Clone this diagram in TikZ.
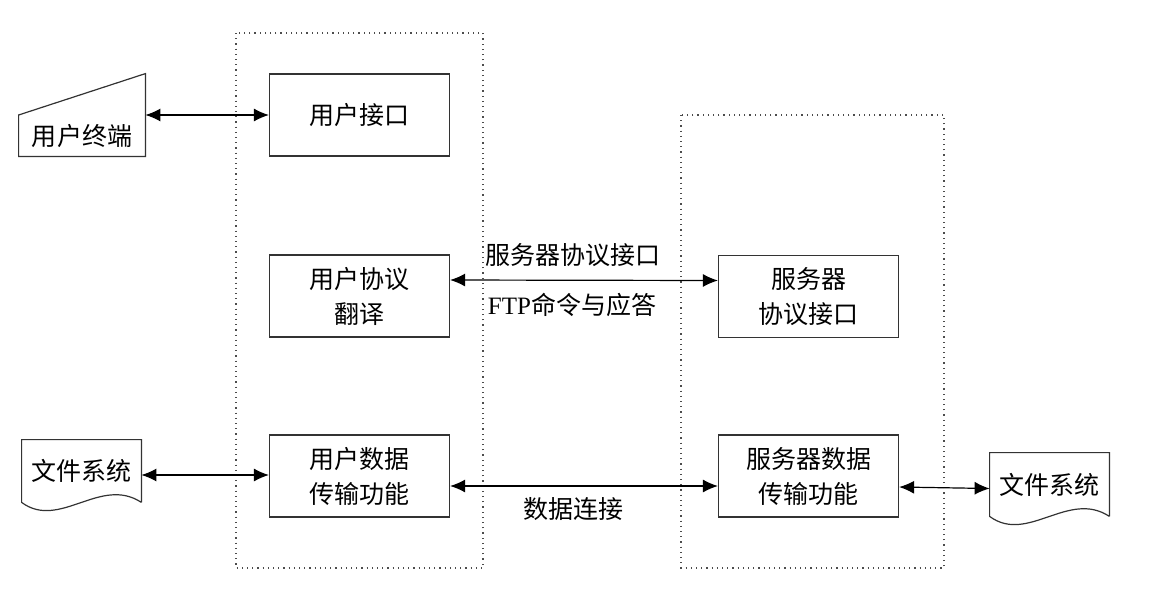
\documentclass[tikz,border=0pt]{standalone}
\usepackage{fontspec}
\setmainfont{Liberation Serif}
\newfontfamily\cjk{Noto Sans CJK SC}
\usepackage{tikz}
\usetikzlibrary{arrows.meta}
\usetikzlibrary{calc}

\begin{document}
\begin{tikzpicture}[
    x=0.5pt, y=-0.5pt,
    % Node styles
    block/.style={draw=black!80, line width=0.6pt, minimum width=90pt, minimum height=41pt,
                  inner sep=0pt, align=center, font=\cjk\fontsize{12.5}{17.5}\selectfont},
    frame/.style={minimum width=63pt, minimum height=41pt, inner sep=0pt,
                  font=\cjk\fontsize{12.5}{17.5}\selectfont},
    outline/.style={draw=black!80, line width=0.6pt},
    lbl/.style={font=\fontsize{12.5}{15}\selectfont, inner sep=0pt},
    % Dotted frames round each side
    container/.style={draw=black!70, dotted, line width=0.6pt},
    % Two-headed links
    link/.style={line width=0.6pt, {Latex[length=7.5pt,width=6.5pt]}-{Latex[length=7.5pt,width=6.5pt]}}
]
    \useasboundingbox (0,0) rectangle (1159,595);

    % =========================================================================
    % 1. DOTTED CONTAINERS
    % =========================================================================
    \draw[container] (236,33) rectangle (483,568);
    \draw[container] (681,115) rectangle (944,568);

    % =========================================================================
    % 2. CLIENT SIDE
    % =========================================================================
    \node[block] (uif)  at (359.5,115) {用户接口};
    \node[block] (upi)  at (359.5,296) {用户协议\\翻译};
    \node[block] (udtp) at (359.5,476) {用户数据\\传输功能};

    % --- User terminal (manual input shape) ---
    \node[frame, minimum width=63pt] (term) at (82,115) {};
    \draw[outline] (term.south west) -- (term.south east) -- (term.north east)
        -- ($(term.north west)!0.5!(term.south west)$) -- cycle;
    \node[lbl, font=\cjk\fontsize{12.5}{15}\selectfont] (termtxt) at (82,136) {用户终端};

    % --- Local file system (document shape) ---
    \node[frame, minimum width=59.5pt, minimum height=31pt] (docL) at (81.5,471) {文件系统};
    \draw[outline] (docL.south east) -- (docL.north east) -- (docL.north west) -- (docL.south west)
        .. controls ($(docL.south west)+(38,28)$) and ($(docL.south east)+(-41,-27)$) .. (docL.south east);

    % =========================================================================
    % 3. SERVER SIDE
    % =========================================================================
    \node[block] (spi)  at (808.5,296.5) {服务器\\协议接口};
    \node[block] (sdtp) at (808.5,476) {服务器数据\\传输功能};

    % --- Remote file system (document shape) ---
    \node[frame, minimum width=59.5pt, minimum height=31.5pt] (docR) at (1049.5,484.5) {文件系统};
    \draw[outline] (docR.south east) -- (docR.north east) -- (docR.north west) -- (docR.south west)
        .. controls ($(docR.south west)+(38,28)$) and ($(docR.south east)+(-41,-27)$) .. (docR.south east);

    % =========================================================================
    % 4. LINKS
    % =========================================================================
    \draw[link] (term.east) -- (uif.west);
    \draw[link] ([yshift=-2pt]docL.east) -- ([yshift=0.5pt]udtp.west);
    \draw[link] ([yshift=8pt]upi.east) -- ([yshift=8pt]spi.west)
        node[lbl, midway, xshift=-5.5pt, yshift=12.5pt, font=\cjk\fontsize{12.5}{15}\selectfont] (ctltop) {服务器协议接口}
        node[lbl, midway, xshift=-6pt, yshift=-12.5pt] (ctlbot) {FTP{\cjk 命令与应答}};
    \draw[link] ([yshift=-5pt]udtp.east) -- ([yshift=-5pt]sdtp.west)
        node[lbl, midway, xshift=-5.5pt, yshift=-11.5pt, font=\cjk\fontsize{12.5}{15}\selectfont] (datalbl) {数据连接};
    \draw[link] ([yshift=-5.5pt]sdtp.east) -- ([yshift=-2pt]docR.west);

\end{tikzpicture}
\end{document}
